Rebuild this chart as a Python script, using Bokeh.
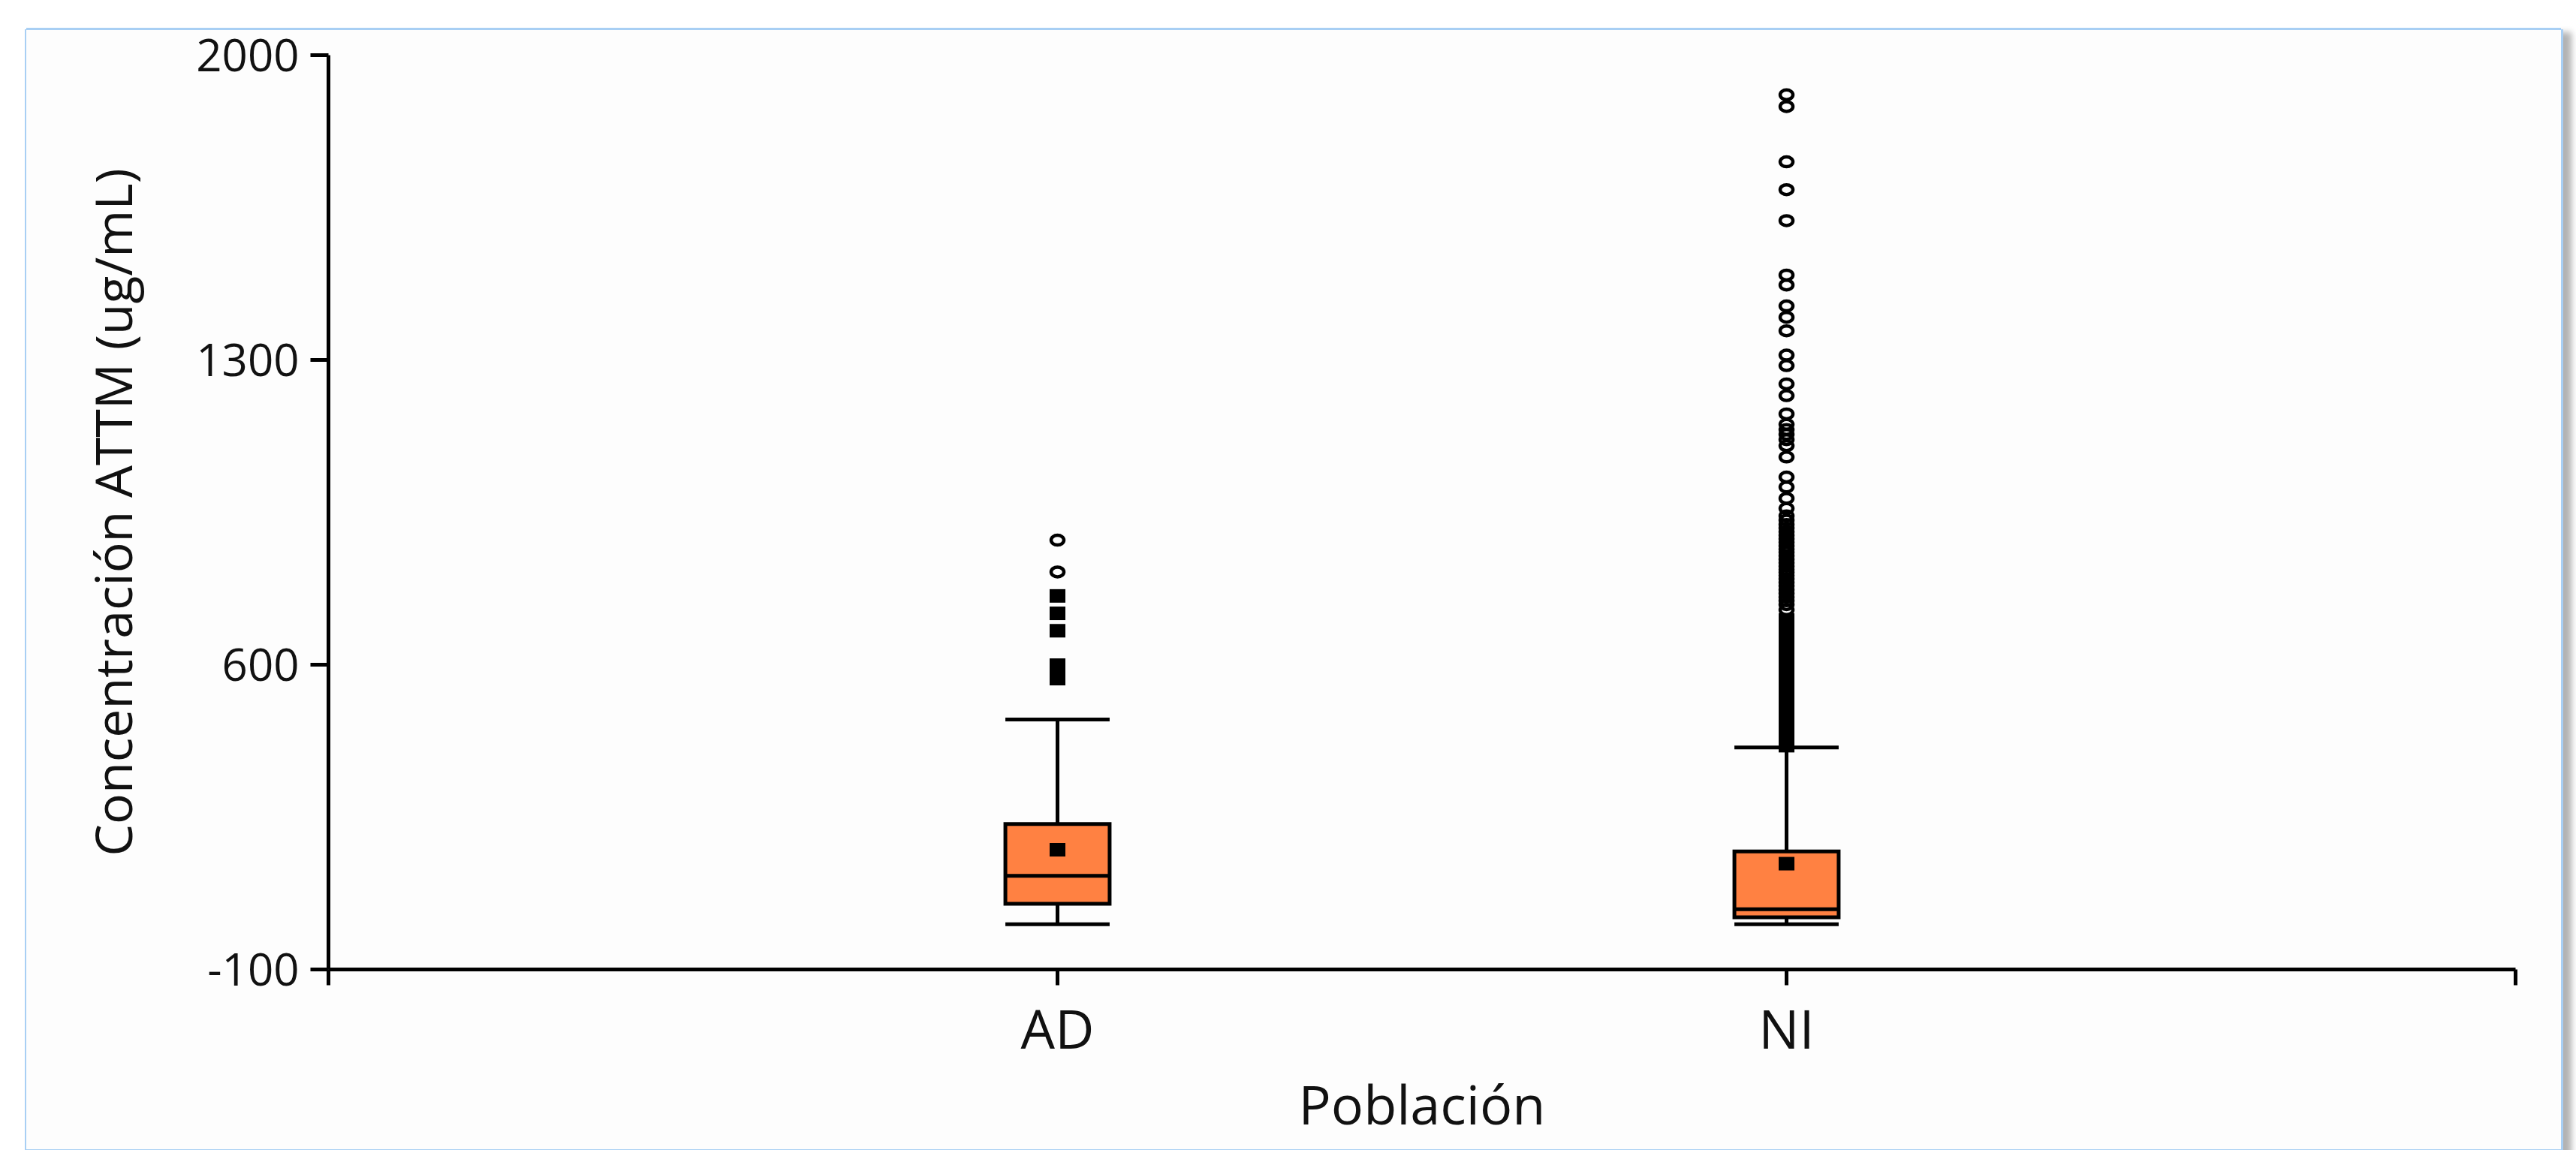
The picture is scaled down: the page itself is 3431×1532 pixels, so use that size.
from bokeh.plotting import figure
from bokeh.models import FixedTicker, ColumnDataSource, Range1d
from bokeh.embed import file_html
from bokeh.resources import INLINE

# ---------------- data ----------------
categories = ["AD", "NI"]
cat_pos = [1, 2]
q1 = [51, 20]
median = [115, 38.5]
q3 = [234, 171]
mean = [175, 143]
whisker_low = [4, 4]
whisker_high = [474, 410]

# outliers beyond 1.5 IQR (filled squares) and beyond 3 IQR (open circles)
ad_mild = [568, 578, 588, 599, 678, 718, 758]
ad_far = [813, 886]
ni_mild = [414, 421, 429, 437, 446, 455, 463, 472, 481, 490, 498, 507, 516,
           526, 535, 545, 554, 563, 573, 582, 592, 601, 611, 620, 630, 640,
           650, 660, 671, 681, 692, 703]
ni_far = [726, 738, 747, 755, 764, 772, 781, 789, 797, 805, 812, 818, 826,
          834, 842, 850, 858, 865, 873, 881, 889, 897, 905, 914, 922, 932,
          942, 959, 982, 1008, 1031, 1077, 1103, 1117, 1129, 1140, 1152, 1176,
          1218, 1245, 1287, 1311, 1367, 1398, 1424, 1472, 1495, 1620, 1691,
          1755, 1882, 1909]

y_ticks = [-100, 600, 1300, 2000]
x_ticks = [0, 1, 2, 3]
x_title = "Población"
y_title = "Concentración ATTM (ug/mL)"

# ---------------- style ----------------
ORANGE = "#ff8142"
BW = 0.143
LW = 5
FONT = "Open Sans"
TXT = "#111111"
FRAME = "#a8cff4"

p = figure(width=3376, height=1500,
           x_range=Range1d(0, 3), y_range=Range1d(-100, 2000),
           output_backend="svg", toolbar_location=None,
           min_border_left=402, min_border_right=61,
           min_border_top=42, min_border_bottom=240,
           background_fill_color="#fdfdfd", border_fill_alpha=0)
p.margin = (31, 0, 0, 35)
p.styles = {
    "background-color": "#fdfdfd",
    "box-shadow": ("inset 0 6px 0 0 #ffffff, inset 0 9px 0 0 " + FRAME + ", "
                   "-2px 8px 0 0 " + FRAME + ", 3px 8px 0 0 " + FRAME + ", "
                   "14px 12px 8px rgba(0,0,0,0.30)"),
}
p.outline_line_color = None
p.xgrid.visible = False
p.ygrid.visible = False

left = [c - BW / 2 for c in cat_pos]
right = [c + BW / 2 for c in cat_pos]
src = ColumnDataSource(dict(x=cat_pos, q1=q1, q3=q3, med=median, mean=mean,
                            lo=whisker_low, hi=whisker_high,
                            left=left, right=right))

# whiskers
p.segment(x0="x", y0="q3", x1="x", y1="hi", source=src, line_width=LW, line_color="black")
p.segment(x0="x", y0="lo", x1="x", y1="q1", source=src, line_width=LW, line_color="black")
p.segment(x0="left", y0="hi", x1="right", y1="hi", source=src, line_width=LW, line_color="black")
p.segment(x0="left", y0="lo", x1="right", y1="lo", source=src, line_width=LW, line_color="black")
# box
p.vbar(x="x", width=BW, bottom="q1", top="q3", source=src, fill_color=ORANGE,
       line_color="black", line_width=LW, line_join="miter")
# median
p.segment(x0="left", y0="med", x1="right", y1="med", source=src, line_width=LW, line_color="black")
# mean
p.rect(x="x", y="mean", width=21, height=18, width_units="screen", height_units="screen",
       source=src, fill_color="black", line_color=None)

# outliers
mild_x = [cat_pos[0]] * len(ad_mild) + [cat_pos[1]] * len(ni_mild)
mild_y = ad_mild + ni_mild
p.rect(x=mild_x, y=mild_y, width=21, height=18, width_units="screen", height_units="screen",
       fill_color="black", line_color=None)
far_x = [cat_pos[0]] * len(ad_far) + [cat_pos[1]] * len(ni_far)
far_y = ad_far + ni_far
p.ellipse(x=far_x, y=far_y, width=17, height=13, width_units="screen", height_units="screen",
          fill_color=None, line_color="black", line_width=4.5)

# axes
for ax in (p.xaxis[0], p.yaxis[0]):
    ax.axis_line_width = LW
    ax.axis_line_color = "black"
    ax.major_tick_line_width = LW
    ax.major_tick_line_color = "black"
    ax.major_tick_in = 0
    ax.minor_tick_in = 0
    ax.minor_tick_out = 0
    ax.major_label_text_font = FONT
    ax.major_label_text_color = TXT
    ax.axis_label_text_font = FONT
    ax.axis_label_text_color = TXT
    ax.axis_label_text_font_style = "normal"

xa = p.xaxis[0]
xa.ticker = FixedTicker(ticks=x_ticks)
xa.major_label_overrides = {t: "" for t in x_ticks} | {c: n for c, n in zip(cat_pos, categories)}
xa.major_tick_out = 21
xa.major_label_text_font_size = "72px"
xa.major_label_standoff = 7
xa.axis_label = x_title
xa.axis_label_text_font_size = "72px"
xa.axis_label_standoff = 0

ya = p.yaxis[0]
ya.ticker = FixedTicker(ticks=y_ticks)
ya.major_label_overrides = {t: str(t) for t in y_ticks}
ya.major_tick_out = 24
ya.major_label_text_font_size = "60px"
ya.major_label_standoff = 15
ya.axis_label = y_title
ya.axis_label_text_font_size = "68px"
ya.axis_label_standoff = 62

open("out.html", "w").write(file_html(p, INLINE))
